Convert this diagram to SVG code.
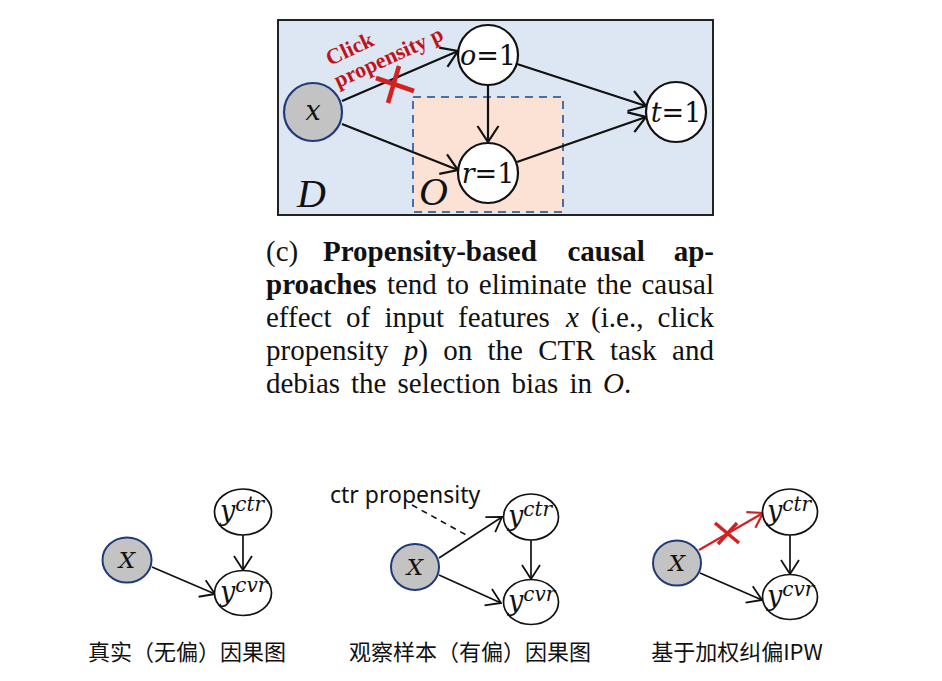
<svg xmlns="http://www.w3.org/2000/svg" width="942" height="681" viewBox="0 0 942 681">
<defs>
<style>
.bg{fill:#ffffff}
.node{fill:#ffffff;stroke:#111;stroke-width:2.2}
.xnode{fill:#c3c3c3;stroke:#1f3a78;stroke-width:2.2}
.snode{fill:#ffffff;stroke:#111;stroke-width:1.7}
.sxnode{fill:#c3c3c3;stroke:#1f3a78;stroke-width:2}
.edge{fill:none;stroke:#111;stroke-width:2.2}
.sedge{fill:none;stroke:#111;stroke-width:1.7}
.red{fill:none;stroke:#d42020;stroke-width:2.2}
.mth{font-family:"DejaVu Serif","Liberation Serif",serif;font-style:italic;fill:#111}
.num{font-family:"DejaVu Serif","Liberation Serif",serif;font-style:normal}
.cap{font-family:"Liberation Serif","Times New Roman",serif;font-size:29px;fill:#111}
.b{font-weight:bold}
.i{font-style:italic}
.cn{font-family:"Noto Sans CJK SC","Noto Sans",sans-serif;font-size:22px;fill:#111}
</style>
<marker id="ah" viewBox="0 0 18 24" refX="17" refY="12" markerWidth="18" markerHeight="24" markerUnits="userSpaceOnUse" orient="auto"><path d="M1,1.5 L17,12 L1,22.5" fill="none" stroke="#111" stroke-width="2.2"/></marker>
<marker id="ahs" viewBox="0 0 16 20" refX="15" refY="10" markerWidth="16" markerHeight="20" markerUnits="userSpaceOnUse" orient="auto"><path d="M1,1 L15,10 L1,19" fill="none" stroke="#111" stroke-width="1.8"/></marker>
<marker id="ahr" viewBox="0 0 16 20" refX="15" refY="10" markerWidth="16" markerHeight="20" markerUnits="userSpaceOnUse" orient="auto"><path d="M1,1 L15,10 L1,19" fill="none" stroke="#d42020" stroke-width="2.2"/></marker>
</defs>
<rect class="bg" x="0" y="0" width="942" height="681"/>

<!-- Top diagram -->
<g id="panel-D">
<rect x="278" y="20" width="435" height="195" fill="#dce7f3" stroke="#222" stroke-width="2"/>
<text x="297" y="207" font-family="Liberation Serif,serif" font-style="italic" font-size="40" fill="#111">D</text>
</g>
<g id="panel-O">
<rect x="413" y="97" width="150" height="115" fill="#fbe2d5" stroke="#4a6fa5" stroke-width="2" stroke-dasharray="8,6"/>
<text x="419" y="205" font-family="Liberation Serif,serif" font-style="italic" font-size="40" fill="#111">O</text>
</g>

<g id="top-connectors">
<line class="edge" x1="342" y1="101" x2="458" y2="51" marker-end="url(#ah)"/>
<line class="edge" x1="342" y1="124" x2="458" y2="170" marker-end="url(#ah)"/>
<line class="edge" x1="488" y1="85" x2="488" y2="142" marker-end="url(#ah)"/>
<line class="edge" x1="517" y1="64" x2="646" y2="106" marker-end="url(#ah)"/>
<line class="edge" x1="517" y1="162" x2="646" y2="117" marker-end="url(#ah)"/>
<g id="click-label" fill="#c0141c" font-family="Liberation Serif,serif" font-weight="bold" font-size="22">
<text transform="translate(330,66) rotate(-25)">Click</text>
<text transform="translate(338,88) rotate(-24.5)">propensity p</text>
</g>
<g id="cross-top" stroke="#d42020" stroke-width="4.5" stroke-linecap="butt">
<line x1="376" y1="78" x2="414" y2="91"/>
<line x1="399" y1="66" x2="388" y2="103"/>
</g>
</g>

<g id="node-x">
<circle class="xnode" cx="313" cy="112" r="29"/>
<text class="mth" x="313" y="120" font-size="27" text-anchor="middle">x</text>
</g>
<g id="node-o">
<circle class="node" cx="488" cy="55" r="30"/>
<text class="mth" x="488" y="65" font-size="27" text-anchor="middle">o<tspan class="num">=1</tspan></text>
</g>
<g id="node-r">
<circle class="node" cx="488" cy="173" r="30"/>
<text class="mth" x="488" y="183" font-size="27" text-anchor="middle">r<tspan class="num">=1</tspan></text>
</g>
<g id="node-t">
<circle class="node" cx="676" cy="112" r="30"/>
<text class="mth" x="676" y="122" font-size="27" text-anchor="middle">t<tspan class="num">=1</tspan></text>
</g>

<!-- Caption -->
<g id="caption" class="cap">
<text y="261"><tspan x="266">(c)</tspan><tspan x="323" class="b">Propensity-based</tspan><tspan x="567.5" class="b">causal</tspan><tspan x="673.7" class="b">ap-</tspan></text>
<text y="294"><tspan x="266" class="b">proaches</tspan><tspan x="386.9">tend</tspan><tspan x="446.5">to</tspan><tspan x="478.8">eliminate</tspan><tspan x="596.4">the</tspan><tspan x="641.5">causal</tspan></text>
<text y="327"><tspan x="266">effect</tspan><tspan x="346.1">of</tspan><tspan x="384.4">input</tspan><tspan x="458.1">features</tspan><tspan x="566" class="i">x</tspan><tspan x="591.1">(i.e.,</tspan><tspan x="657.6">click</tspan></text>
<text y="360"><tspan x="266">propensity</tspan><tspan x="403.7" class="i">p</tspan><tspan>)</tspan><tspan x="443.2">on</tspan><tspan x="487.5">the</tspan><tspan x="538.2">CTR</tspan><tspan x="609.9">task</tspan><tspan x="672.1">and</tspan></text>
<text y="393"><tspan x="266">debias</tspan><tspan x="351">the</tspan><tspan x="397.5">selection</tspan><tspan x="511.5">bias</tspan><tspan x="569.5">in</tspan><tspan x="603" class="i">O</tspan><tspan>.</tspan></text>
</g>

<!-- Bottom diagram 1 -->
<g id="d1-connectors">
<line class="sedge" x1="152" y1="567" x2="215" y2="594" marker-end="url(#ahs)"/>
<line class="sedge" x1="243" y1="535" x2="243" y2="570" marker-end="url(#ahs)"/>
</g>
<g id="d1-X">
<ellipse class="sxnode" cx="127" cy="560" rx="24.5" ry="22.5"/>
<text class="mth" x="127" y="568" font-size="23" text-anchor="middle">X</text>
</g>
<g id="d1-yctr">
<ellipse class="snode" cx="243" cy="512" rx="28.5" ry="23"/>
<text class="mth" x="220" y="520" font-size="27">y<tspan font-size="20" dy="-9">ctr</tspan></text>
</g>
<g id="d1-ycvr">
<ellipse class="snode" cx="243" cy="593" rx="28.5" ry="22.5"/>
<text class="mth" x="220" y="601" font-size="27">y<tspan font-size="20" dy="-9">cvr</tspan></text>
</g>
<text class="cn" x="187" y="660" text-anchor="middle">真实（无偏）因果图</text>

<!-- Bottom diagram 2 -->
<g id="d2-connectors">
<line x1="412" y1="505" x2="468" y2="536" stroke="#111" stroke-width="1.6" stroke-dasharray="6,5"/>
<line class="sedge" x1="439" y1="558" x2="502" y2="517" marker-end="url(#ahs)"/>
<line class="sedge" x1="439" y1="575" x2="501" y2="603" marker-end="url(#ahs)"/>
<line class="sedge" x1="531" y1="540" x2="531" y2="579" marker-end="url(#ahs)"/>
</g>
<text x="330" y="503" font-family="Noto Sans,Open Sans,sans-serif" font-size="23" fill="#111">ctr propensity</text>
<g id="d2-X">
<ellipse class="sxnode" cx="415" cy="567" rx="24" ry="23"/>
<text class="mth" x="415" y="575" font-size="23" text-anchor="middle">X</text>
</g>
<g id="d2-yctr">
<ellipse class="snode" cx="531" cy="517" rx="27.5" ry="23"/>
<text class="mth" x="508" y="525" font-size="27">y<tspan font-size="20" dy="-9">ctr</tspan></text>
</g>
<g id="d2-ycvr">
<ellipse class="snode" cx="531" cy="602" rx="27.5" ry="22.5"/>
<text class="mth" x="508" y="610" font-size="27">y<tspan font-size="20" dy="-9">cvr</tspan></text>
</g>
<text class="cn" x="470" y="660" text-anchor="middle">观察样本（有偏）因果图</text>

<!-- Bottom diagram 3 -->
<g id="d3-connectors">
<line class="red" x1="699" y1="550" x2="763" y2="513" marker-end="url(#ahr)"/>
<line class="sedge" x1="700" y1="573" x2="762" y2="600" marker-end="url(#ahs)"/>
<line class="sedge" x1="790" y1="535" x2="790" y2="574" marker-end="url(#ahs)"/>
<g stroke="#d42020" stroke-width="3.5">
<line x1="715" y1="523" x2="739" y2="543"/>
<line x1="737" y1="523" x2="718" y2="544"/>
</g>
</g>
<g id="d3-X">
<ellipse class="sxnode" cx="677" cy="563" rx="24" ry="22.5"/>
<text class="mth" x="677" y="571" font-size="23" text-anchor="middle">X</text>
</g>
<g id="d3-yctr">
<ellipse class="snode" cx="790" cy="512" rx="27.5" ry="23"/>
<text class="mth" x="767" y="520" font-size="27">y<tspan font-size="20" dy="-9">ctr</tspan></text>
</g>
<g id="d3-ycvr">
<ellipse class="snode" cx="790" cy="597" rx="27.5" ry="22.5"/>
<text class="mth" x="767" y="605" font-size="27">y<tspan font-size="20" dy="-9">cvr</tspan></text>
</g>
<text class="cn" x="737" y="660" text-anchor="middle">基于加权纠偏IPW</text>
</svg>
